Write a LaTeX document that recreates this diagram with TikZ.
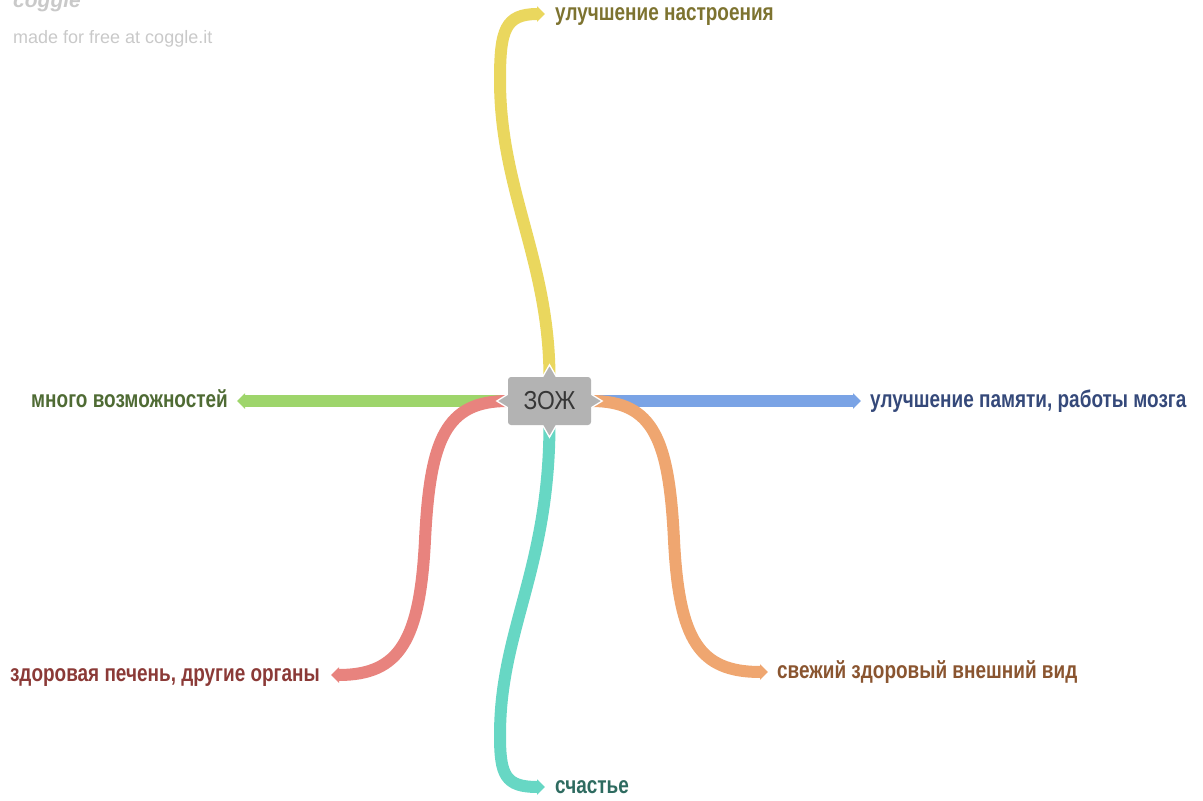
\documentclass[tikz,border=0pt]{standalone}
\usepackage{fontspec}
\setmainfont{Liberation Sans}[FakeStretch=0.79]
\newfontfamily\zojfont{Liberation Sans}[FakeStretch=0.88]
\newfontfamily\markfont{Liberation Sans}
\usetikzlibrary{arrows.meta,backgrounds}

\definecolor{zojgrey}{HTML}{B3B3B3}
\definecolor{zojtext}{HTML}{373737}
\definecolor{markgrey}{HTML}{C9C9C9}
\definecolor{moodline}{HTML}{EAD75E}
\definecolor{moodtext}{HTML}{7D7330}
\definecolor{memline}{HTML}{7AA3E5}
\definecolor{memtext}{HTML}{35497A}
\definecolor{chanceline}{HTML}{9ED56B}
\definecolor{chancetext}{HTML}{4F6B34}
\definecolor{liverline}{HTML}{E8837E}
\definecolor{livertext}{HTML}{8B3A37}
\definecolor{lookline}{HTML}{EFA670}
\definecolor{looktext}{HTML}{8A5530}
\definecolor{joyline}{HTML}{67D7C4}
\definecolor{joytext}{HTML}{2E6B60}

\tikzset{
  branch/.style={line width=12pt, -{Triangle[length=8pt, width=15pt]}},
  leaf/.style={font=\bfseries\fontsize{24}{28}\selectfont, inner sep=0pt},
  spike/.style={fill=zojgrey, draw=white, line width=1.3pt},
  topic/.style={fill=zojgrey, rounded corners=3pt, minimum width=83pt,
    minimum height=48pt, text=zojtext, font=\zojfont\fontsize{26}{30}\selectfont},
}

\begin{document}
\begin{tikzpicture}[x=1pt, y=-1pt]
  \useasboundingbox (0,0) rectangle (1203,801);

  \node[anchor=base west, inner sep=0pt, text=markgrey, font=\markfont\itshape\bfseries\fontsize{21}{25}\selectfont] (logo) at (13,7) {coggle};
  \node[anchor=base west, inner sep=0pt, text=markgrey, font=\markfont\fontsize{18}{22}\selectfont] (made) at (13,43) {made for free at coggle.it};

  \node[topic] (zoj) at (549.5,401) {ЗОЖ};

  \node[leaf, anchor=base west, text=moodtext] (mood) at (555,20) {улучшение настроения};
  \node[leaf, anchor=base west, text=memtext] (mem) at (870,407.5) {улучшение памяти, работы мозга};
  \node[leaf, anchor=base east, text=chancetext] (chance) at (228,407) {много возможностей};
  \node[leaf, anchor=base east, text=livertext] (liver) at (320,681) {здоровая печень, другие органы};
  \node[leaf, anchor=base west, text=looktext] (look) at (777,678) {свежий здоровый внешний вид};
  \node[leaf, anchor=base west, text=joytext] (joy) at (555,793) {счастье};

  \coordinate (moodend) at (545,14);
  \coordinate (memend) at (861,401);
  \coordinate (chanceend) at (237,401);
  \coordinate (liverend) at (331,675);
  \coordinate (lookend) at (768,672);
  \coordinate (joyend) at (545,787);

  \begin{scope}[on background layer]
    \draw[branch, chanceline] (zoj.west) -- (chanceend);
    \draw[branch, memline] (zoj.east) -- (memend);
    \draw[branch, liverline] (zoj.west) .. controls (445,401) and (430,440) .. (425,540)
      .. controls (420,640) and (400,675) .. (liverend);
    \draw[branch, lookline] (zoj.east) .. controls (654,401) and (669,440) .. (674,540)
      .. controls (679,640) and (699,672) .. (lookend);
    \draw[branch, moodline] (zoj.north) .. controls (549,260) and (500,190) .. (500,80)
      .. controls (500,30) and (505,14) .. (moodend);
    \draw[branch, joyline] (zoj.south) .. controls (549,570) and (500,630) .. (500,735)
      .. controls (500,775) and (505,787) .. (joyend);
    \filldraw[spike] ([shift={(-8pt,-2pt)}]zoj.north) -- ([yshift=12pt]zoj.north) -- ([shift={(8pt,-2pt)}]zoj.north) -- cycle;
    \filldraw[spike] ([shift={(-8pt,2pt)}]zoj.south) -- ([yshift=-12pt]zoj.south) -- ([shift={(8pt,2pt)}]zoj.south) -- cycle;
    \filldraw[spike] ([shift={(2pt,8pt)}]zoj.west) -- ([xshift=-11pt]zoj.west) -- ([shift={(2pt,-8pt)}]zoj.west) -- cycle;
    \filldraw[spike] ([shift={(-2pt,8pt)}]zoj.east) -- ([xshift=11pt]zoj.east) -- ([shift={(-2pt,-8pt)}]zoj.east) -- cycle;
  \end{scope}
\end{tikzpicture}
\end{document}
